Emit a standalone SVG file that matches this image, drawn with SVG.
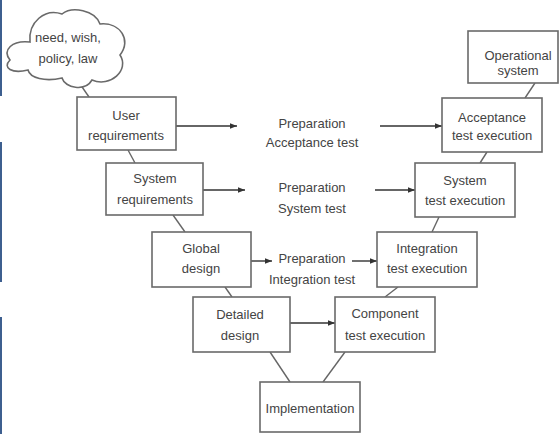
<svg xmlns="http://www.w3.org/2000/svg" width="559" height="434" viewBox="0 0 559 434">
<defs>
<marker id="ah" viewBox="0 0 10 10" refX="10" refY="5" markerWidth="7" markerHeight="7" markerUnits="userSpaceOnUse" orient="auto">
<path d="M0,1 L10,5 L0,9 Z" fill="#333"/>
</marker>
<style>
.box{fill:#fff;stroke:#6a6a6a;stroke-width:1.6}
.t{font-family:"Liberation Sans",Arial,sans-serif;font-size:13px;fill:#444;text-anchor:middle}
.c{stroke:#666;stroke-width:1.4;fill:none}
.a{stroke:#333;stroke-width:1.4;fill:none;marker-end:url(#ah)}
</style>
</defs>
<rect width="559" height="434" fill="#fff"/>
<g fill="#3d5f8f">
<rect x="0" y="0" width="2" height="96"/>
<rect x="0" y="142" width="2" height="140"/>
<rect x="0" y="317" width="2" height="117"/>
</g>
<g id="connectors">
<line class="c" x1="80" y1="84" x2="89" y2="97"/>
<line class="c" x1="128" y1="150" x2="135" y2="163"/>
<line class="c" x1="173" y1="215" x2="185" y2="232"/>
<line class="c" x1="225" y1="287" x2="232" y2="297"/>
<line class="c" x1="270" y1="352" x2="290" y2="382"/>
<line class="c" x1="345" y1="352" x2="323" y2="382"/>
<line class="c" x1="398" y1="287" x2="385" y2="297"/>
<line class="c" x1="439" y1="217" x2="432" y2="232"/>
<line class="c" x1="487" y1="152" x2="480" y2="163"/>
<line class="c" x1="535" y1="83" x2="525" y2="98"/>
<line class="a" x1="176" y1="126" x2="237" y2="126"/>
<line class="a" x1="380" y1="126" x2="442" y2="126"/>
<line class="a" x1="203" y1="190" x2="245" y2="190"/>
<line class="a" x1="375" y1="190" x2="415" y2="190"/>
<line class="a" x1="251" y1="261" x2="272" y2="261"/>
<line class="a" x1="352" y1="261" x2="377" y2="261"/>
<line class="a" x1="290" y1="323" x2="335" y2="323"/>
</g>
<g id="cloud">
<path class="box" d="M10,60 C2,50 12,40 30,42 C28,22 45,8 62,14 C72,6 95,10 100,24 C120,22 132,40 120,55 C130,70 110,88 92,80 C85,92 65,88 62,78 C45,82 30,78 28,70 C12,74 2,68 10,60 Z"/>
<text class="t" x="68" y="42">need, wish,</text>
<text class="t" x="68" y="63">policy, law</text>
</g>
<g id="user-req">
<rect class="box" x="77" y="97" width="99" height="53"/>
<text class="t" x="126" y="120">User</text>
<text class="t" x="126" y="140">requirements</text>
</g>
<g id="sys-req">
<rect class="box" x="106" y="163" width="97" height="52"/>
<text class="t" x="155" y="183">System</text>
<text class="t" x="155" y="204">requirements</text>
</g>
<g id="global">
<rect class="box" x="152" y="232" width="99" height="55"/>
<text class="t" x="201" y="253">Global</text>
<text class="t" x="201" y="273">design</text>
</g>
<g id="detailed">
<rect class="box" x="193" y="297" width="97" height="55"/>
<text class="t" x="240" y="319">Detailed</text>
<text class="t" x="240" y="340">design</text>
</g>
<g id="impl">
<rect class="box" x="260" y="382" width="100" height="50"/>
<text class="t" x="310" y="413">Implementation</text>
</g>
<g id="component">
<rect class="box" x="335" y="297" width="100" height="55"/>
<text class="t" x="385" y="318">Component</text>
<text class="t" x="385" y="340">test execution</text>
</g>
<g id="integration">
<rect class="box" x="377" y="232" width="100" height="55"/>
<text class="t" x="427" y="253">Integration</text>
<text class="t" x="427" y="273">test execution</text>
</g>
<g id="system-test">
<rect class="box" x="415" y="163" width="100" height="54"/>
<text class="t" x="465" y="185">System</text>
<text class="t" x="465" y="205">test execution</text>
</g>
<g id="acceptance">
<rect class="box" x="442" y="98" width="100" height="54"/>
<text class="t" x="492" y="122">Acceptance</text>
<text class="t" x="492" y="140">test execution</text>
</g>
<g id="operational">
<rect class="box" x="468" y="31" width="90" height="52"/>
<text class="t" x="518" y="60">Operational</text>
<text class="t" x="518" y="75">system</text>
</g>
<g id="prep-acceptance">
<text class="t" x="312" y="128">Preparation</text>
<text class="t" x="312" y="147">Acceptance test</text>
</g>
<g id="prep-system">
<text class="t" x="312" y="192">Preparation</text>
<text class="t" x="312" y="213">System test</text>
</g>
<g id="prep-integration">
<text class="t" x="312" y="263">Preparation</text>
<text class="t" x="312" y="284">Integration test</text>
</g>
</svg>
